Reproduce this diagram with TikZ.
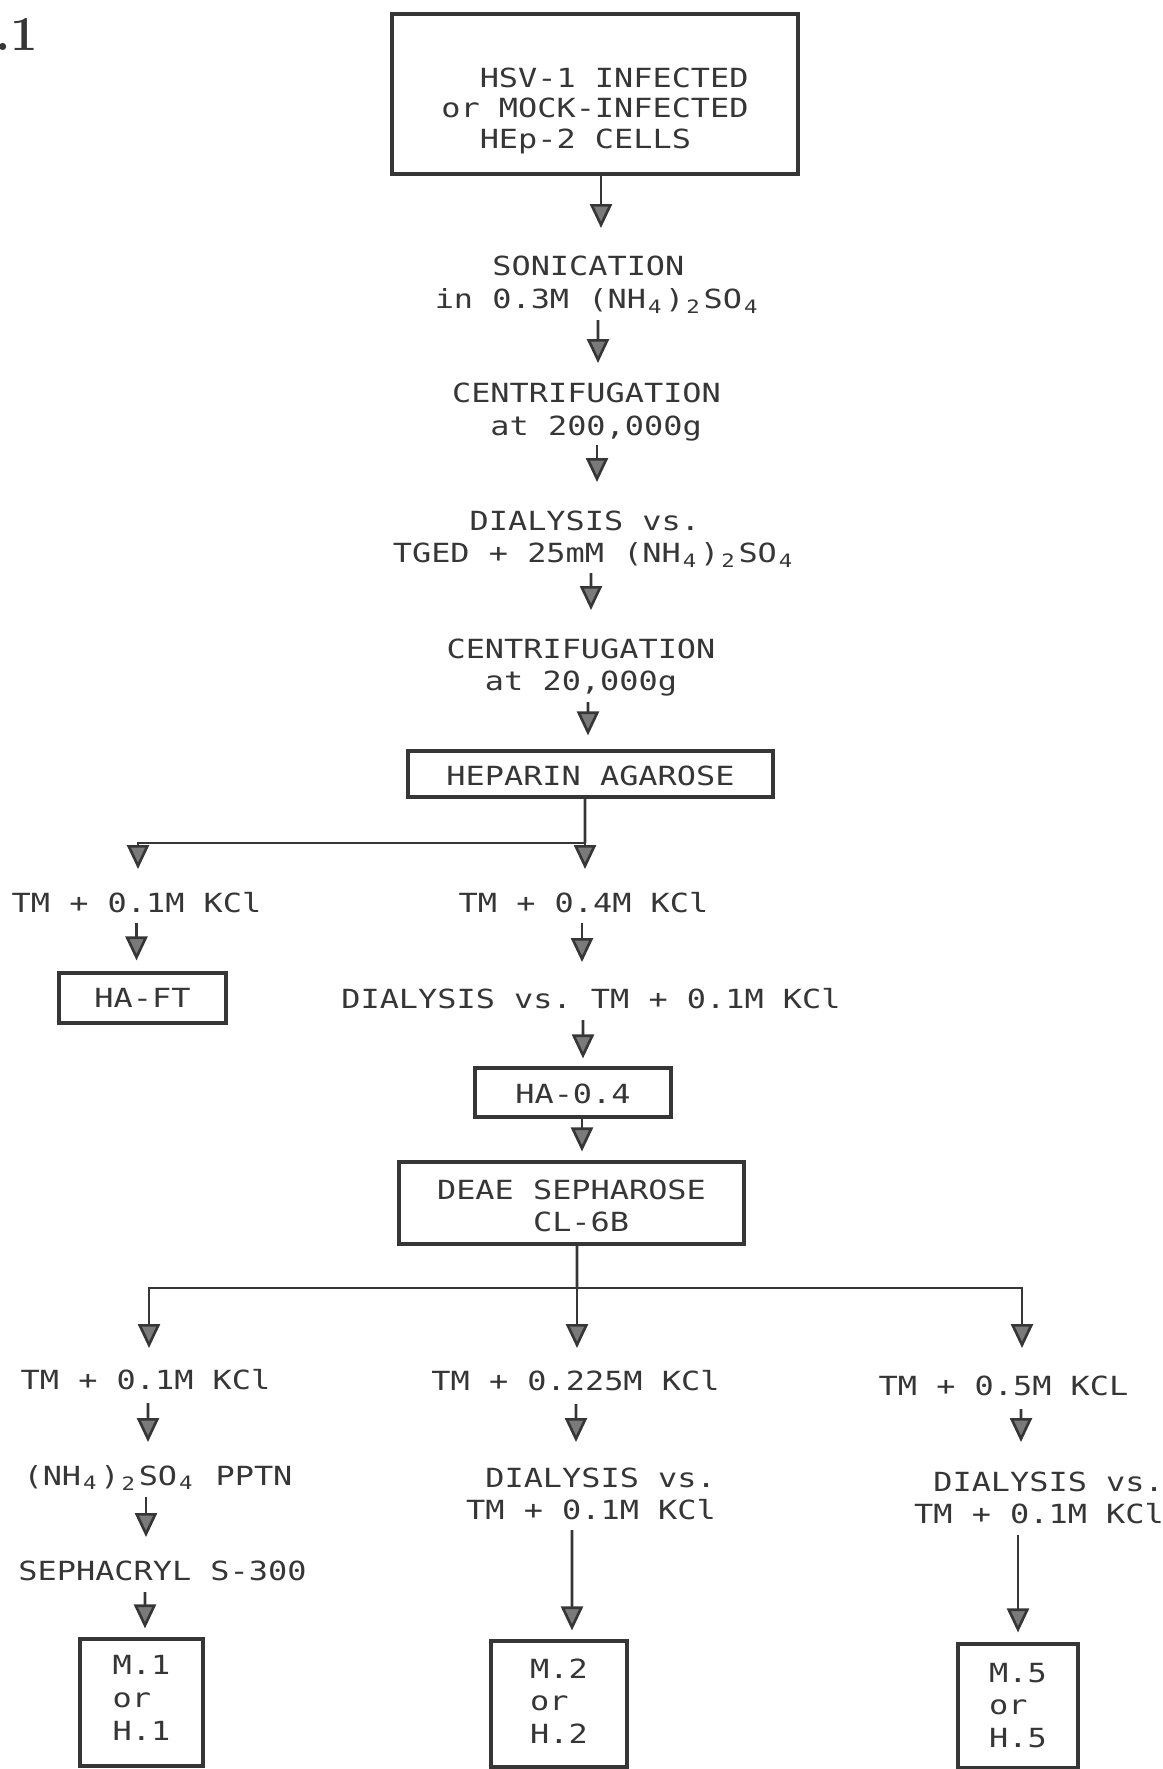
\documentclass[tikz,border=0pt]{standalone}
\usepackage{fontspec}
\usetikzlibrary{arrows.meta}
\newfontfamily\dotfont[FakeStretch=1.21]{DejaVu Sans Mono}
\definecolor{ink}{HTML}{363636}
\definecolor{tipgray}{HTML}{7A7A7A}
\newsavebox\digbox
\newcommand\sbs[1]{\sbox\digbox{0}\makebox[\wd\digbox][c]{\textsubscript{#1}}}
\newcommand\amsulf{(NH\sbs{4})\sbs{2}SO\sbs{4}}

\begin{document}
\begin{tikzpicture}[
		txt/.style={font=\dotfont\fontsize{7.5pt}{9.25pt}\selectfont\frenchspacing, text=ink, inner sep=0pt, anchor=base, align=left},
		pbox/.style={txt, draw=ink, line width=0.9pt},
		link/.style={draw=ink, line width=0.75pt},
		arr/.style={link, -{Triangle[width=0.22cm, length=0.24cm, fill=tipgray]}}]
			%%%%% START %%%%%
			
			\useasboundingbox (0,0) rectangle (11.62,-17.69);
			
			\node[font=\bfseries\fontsize{13.9pt}{16pt}\selectfont, text=ink, inner sep=0pt, anchor=base east] (fig) at (0.39,-0.50) {.1};
			
			% base of a node = base line of its last line
			\node[pbox, minimum width=4.06cm, text height=1.34cm, text depth=0.26cm] (cells) at (5.95,-1.48) {\phantom{HS}HSV-1 INFECTED\\[-0.025cm]or MOCK-INFECTED\\[-0.025cm]\phantom{HS}HEp-2 CELLS};
			\node[txt] (sonic) at (5.98,-3.085) {\phantom{xxx}SONICATION\\in 0.3M \amsulf};
			\node[txt] (centr1) at (5.865,-4.355) {CENTRIFUGATION\\\phantom{xx}at 200,000g};
			\node[txt] (dial1) at (5.945,-5.625) {\phantom{xxxx}DIALYSIS vs.\\TGED + 25mM \amsulf};
			\node[txt] (centr2) at (5.81,-6.905) {CENTRIFUGATION\\\phantom{xx}at 20,000g};
			\node[pbox, minimum width=3.65cm, text height=0.34cm, text depth=0.12cm] (hep) at (5.905,-7.85) {HEPARIN AGAROSE};
			
			\draw[arr] ([xshift=0.06cm]cells.south) -- ([shift={(0.03,0.805)}]sonic.base);
			\draw[arr] ([shift={(0,-0.115)}]sonic.base) -- ([shift={(0.115,0.725)}]centr1.base);
			\draw[arr] ([shift={(0.105,-0.095)}]centr1.base) -- ([shift={(0.025,0.805)}]dial1.base);
			\draw[arr] ([shift={(-0.035,-0.105)}]dial1.base) -- ([shift={(0.10,0.805)}]centr2.base);
			\draw[arr] ([shift={(0.07,-0.115)}]centr2.base) -- ([shift={(-0.025,0.14)}]hep.north);
			
			% heparin agarose fractions
			\node[txt] (tm01a) at (1.365,-9.12) {TM + 0.1M KCl};
			\node[txt] (tm04) at (5.835,-9.12) {TM + 0.4M KCl};
			\node[pbox, minimum width=1.67cm, text height=0.34cm, text depth=0.16cm] (haft) at (1.425,-10.07) {HA-FT};
			\node[txt] (dial2) at (5.91,-10.08) {DIALYSIS vs. TM + 0.1M KCl};
			\node[pbox, minimum width=1.96cm, text height=0.35cm, text depth=0.14cm] (ha04) at (5.73,-11.03) {HA-0.4};
			\node[pbox, minimum width=3.45cm, text height=0.695cm, text depth=0.125cm] (deae) at (5.715,-12.315) {DEAE SEPHAROSE\\\phantom{xxxxx}CL-6B};
			
			\coordinate (j1) at (5.85,-8.43);
			\draw[link] ([xshift=-0.055cm]hep.south) -- (j1);
			\draw[arr] (j1) -- ([shift={(0.015,0.43)}]tm04.base);
			\draw[arr] (j1) -| ([shift={(0.015,0.43)}]tm01a.base);
			\draw[arr] ([shift={(0,-0.11)}]tm01a.base) -- ([shift={(-0.06,0.11)}]haft.north);
			\draw[arr] ([shift={(-0.015,-0.11)}]tm04.base) -- ([shift={(-0.09,0.46)}]dial2.base);
			\draw[arr] ([shift={(-0.08,-0.12)}]dial2.base) -- ([shift={(0.10,0.08)}]ha04.north);
			\draw[arr] ([xshift=0.09cm]ha04.south) -- ([shift={(0.105,0.09)}]deae.north);
			
			% deae sepharose fractions
			\node[txt] (tm01b) at (1.455,-13.89) {TM + 0.1M KCl};
			\node[txt] (tm0225) at (5.755,-13.90) {TM + 0.225M KCl};
			\node[txt] (tm05) at (10.035,-13.95) {TM + 0.5M KCL};
			\node[txt] (pptn) at (1.58,-14.85) {{\amsulf} PPTN};
			\node[txt] (dial3) at (5.91,-15.195) {\phantom{x}DIALYSIS vs.\\TM + 0.1M KCl};
			\node[txt] (dial4) at (10.39,-15.235) {\phantom{x}DIALYSIS vs.\\TM + 0.1M KCl};
			\node[txt] (seph) at (1.625,-15.80) {SEPHACRYL S-300};
			\node[pbox, minimum width=1.23cm, text height=1.01cm, text depth=0.26cm] (m1) at (1.415,-17.40) {M.1\\or\\H.1};
			\node[pbox, minimum width=1.36cm, text height=1.02cm, text depth=0.24cm] (m2) at (5.59,-17.43) {M.2\\or\\H.2};
			\node[pbox, minimum width=1.20cm, text height=1.03cm, text depth=0.21cm] (m5) at (10.18,-17.47) {M.5\\or\\H.5};
			
			\coordinate (j2) at (5.77,-12.88);
			\draw[link] ([xshift=0.055cm]deae.south) -- (j2);
			\draw[arr] (j2) -- ([shift={(0.015,0.42)}]tm0225.base);
			\draw[arr] (j2) -| ([shift={(0.035,0.41)}]tm01b.base);
			\draw[arr] (j2) -| ([shift={(0.185,0.47)}]tm05.base);
			
			\draw[arr] ([shift={(0.025,-0.14)}]tm01b.base) -- ([shift={(-0.10,0.43)}]pptn.base);
			\draw[arr] ([shift={(-0.12,-0.12)}]pptn.base) -- ([shift={(-0.165,0.43)}]seph.base);
			\draw[arr] ([shift={(-0.175,-0.12)}]seph.base) -- ([shift={(0.035,0.09)}]m1.north);
			
			\draw[arr] ([shift={(0.005,-0.14)}]tm0225.base) -- ([shift={(-0.15,0.775)}]dial3.base);
			\draw[arr] ([shift={(-0.19,-0.105)}]dial3.base) -- ([shift={(0.13,0.09)}]m2.north);
			
			\draw[arr] ([shift={(0.175,-0.14)}]tm05.base) -- ([shift={(-0.18,0.815)}]dial4.base);
			\draw[arr] ([shift={(-0.21,-0.115)}]dial4.base) -- ([shift={(0,0.10)}]m5.north);
			
			%%%%% END %%%%%
		\end{tikzpicture}
\end{document}
